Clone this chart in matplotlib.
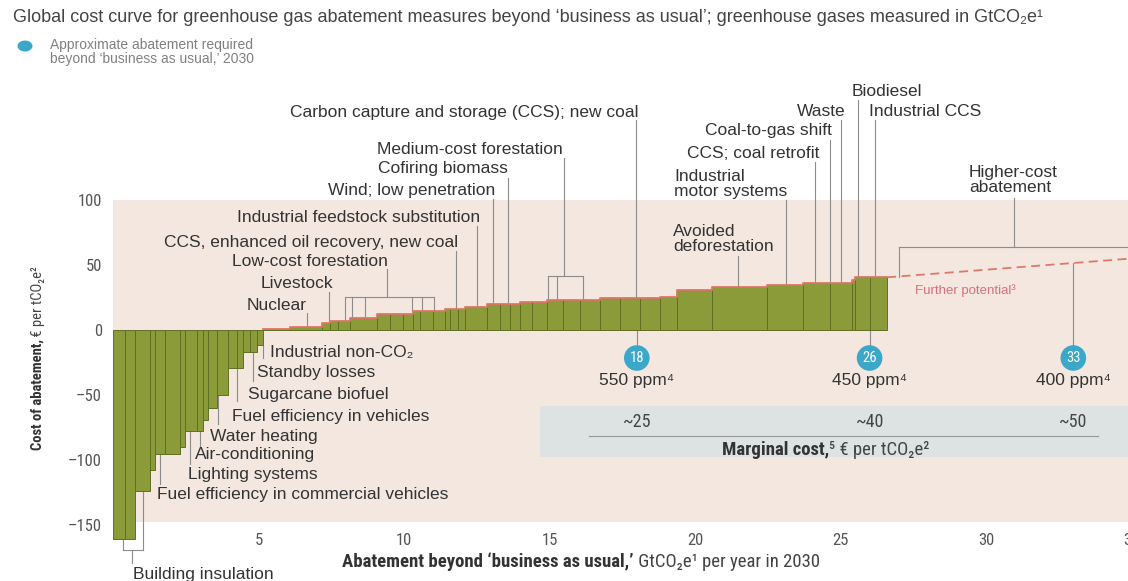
import matplotlib
matplotlib.use("Agg")
import matplotlib.pyplot as plt
from matplotlib import font_manager
from matplotlib.patches import Rectangle, Ellipse
import numpy as np

# ---------------- data ----------------
neg_widths = [0.41, 0.34, 0.52, 0.17, 0.34, 0.52, 0.17, 0.41, 0.21, 0.17,
              0.31, 0.38, 0.31, 0.21, 0.24, 0.24, 0.21]
neg_costs = [-161, -161, -124, -108, -95, -95, -90, -78, -78, -69,
             -60, -50, -29, -29, -17, -17, -11.5]
pos_widths = [0.93, 1.10, 0.27, 0.27, 0.41, 0.93, 0.45, 0.45, 0.34, 0.24,
              0.45, 0.41, 0.17, 0.27, 0.24, 0.76, 0.45, 0.34, 0.34, 0.41,
              0.52, 0.55, 0.58, 0.69, 0.69, 0.69, 0.69, 0.58, 1.20, 1.89,
              1.24, 0.93, 0.76, 0.10, 0.52, 0.58]
pos_costs = [0.5, 2, 5.6, 7, 7, 9, 12, 12, 12, 14.6,
             14.6, 14.6, 16, 16, 16, 17.7, 20, 20, 20, 21.3,
             21.3, 23, 23, 23, 24.6, 24.6, 24.6, 25.6, 31, 33,
             34.4, 36, 36, 38.5, 40.5, 40.5]
further_end_x = 35
further_end_cost = 55

required_abatement = [18, 26, 33]
ppm_labels = ["550 ppm\u2074", "450 ppm\u2074", "400 ppm\u2074"]
marginal_costs = ["~25", "~40", "~50"]

x_ticks = [5, 10, 15, 20, 25, 30, 35]
y_ticks = [100, 50, 0, -50, -100, -150]
y_tick_labels = ["100", "50", "0", "\u201350", "\u2013100", "\u2013150"]

# ---------------- fonts ----------------
names = {f.name for f in font_manager.fontManager.ttflist}
MAIN = ["Liberation Sans", "DejaVu Sans"]
if "Liberation Sans Narrow" in names:
    COND = ["Liberation Sans Narrow", "DejaVu Sans"]; CF = 1.0
elif "Roboto Condensed" in names:
    COND = ["Roboto Condensed", "DejaVu Sans"]; CF = 1.0
else:
    COND = MAIN; CF = 0.85

TXT = "#333333"
LEAD = "#8c8c8c"
BAR = "#8b9b3a"
BAR_EDGE = "#5f6f22"
PINK = "#f3e7e0"
BAND = "#dce3e2"
TEAL = "#3ba7c9"
RED = "#e0786a"
FS = 12.5

W, H = 1128, 581
fig = plt.figure(figsize=(W / 100, H / 100), dpi=100)

PX0, SX, PY0, SY = 113, 29.1, 330, 1.3
def X(px):
    return (px - PX0) / SX
def Y(py):
    return (PY0 - py) / SY

XMAX = 35.6
YMIN, YMAX = -152, 100
ax_w = XMAX * SX
ax_top = PY0 - YMAX * SY
ax_bot = PY0 - YMIN * SY
ax = fig.add_axes([PX0 / W, (H - ax_bot) / H, ax_w / W, (ax_bot - ax_top) / H])
ax.set_xlim(0, XMAX)
ax.set_ylim(YMIN, YMAX)
for s in ax.spines.values():
    s.set_visible(False)
ax.set_facecolor("none")

ax.set_xticks(x_ticks)
ax.set_xticklabels([str(t) for t in x_ticks], family=COND, fontsize=12 * CF, color="#555555")
ax.set_yticks(y_ticks)
ax.set_yticklabels(y_tick_labels, family=COND, fontsize=12 * CF, color="#555555")
ax.tick_params(axis="both", length=0)
ax.tick_params(axis="y", pad=8)
ax.tick_params(axis="x", pad=4)

# backgrounds
ax.add_patch(Rectangle((0, -148), XMAX, 248, facecolor=PINK, edgecolor="none", zorder=0))
ax.add_patch(Rectangle((X(540), Y(457)), XMAX - X(540), Y(406) - Y(457),
                       facecolor=BAND, edgecolor="none", zorder=0.5))

# bars
widths = neg_widths + pos_widths
costs = neg_costs + pos_costs
lefts = np.concatenate([[0], np.cumsum(widths)[:-1]])
ax.bar(lefts, costs, width=widths, align="edge", color=BAR, edgecolor=BAR_EDGE,
       linewidth=0.7, zorder=3, clip_on=False)
end_x = float(np.sum(widths))
nneg = len(neg_widths)
px_ = list(lefts[nneg:]) + [end_x]
py_ = list(pos_costs) + [pos_costs[-1]]
ax.plot(px_, py_, drawstyle="steps-post", color=RED, lw=1.3, zorder=4)

# further potential dashed
ax.plot([end_x, further_end_x], [pos_costs[-1], further_end_cost], color=RED,
        lw=1.3, ls=(0, (5, 3)), zorder=4, clip_on=False)

def cost_at(xd):
    i = int(np.searchsorted(np.cumsum(widths), xd))
    i = min(i, len(costs) - 1)
    return costs[i]

def vline(xd, y1, y2, color=LEAD):
    ax.plot([xd, xd], [y1, y2], color=color, lw=0.8, zorder=2, clip_on=False)

def hline(x1, x2, y, color=LEAD):
    ax.plot([x1, x2], [y, y], color=color, lw=0.8, zorder=2, clip_on=False)

def label(s, px, py, ha="left", fs=FS, color=TXT):
    ax.text(X(px), Y(py), s, ha=ha, va="center", fontsize=fs, color=color,
            family=MAIN, zorder=6)

# ---- labels above curve (positive) ----
top_labels = [
    ("Carbon capture and storage (CCS); new coal", 639, 112, "right", 636, 120),
    ("Medium-cost forestation", 563, 150, "right", None, None),
    ("Cofiring biomass", 508, 169, "right", 508, 178),
    ("Wind; low penetration", 495, 190, "right", 493, 199),
    ("Industrial feedstock substitution", 480, 217, "right", 477, 226),
    ("CCS, enhanced oil recovery, new coal", 458, 242, "right", 456, 251),
    ("Low-cost forestation", 388, 261, "right", None, None),
    ("Livestock", 333, 283, "right", 329, 292),
    ("Nuclear", 247, 305, "left", 307, 313),
    ("Biodiesel", 852, 91, "left", 858, 100),
    ("Waste", 846, 111, "right", 841, 120),
    ("Industrial CCS", 869, 111, "left", 875, 120),
    ("Coal-to-gas shift", 832, 131, "right", 830, 140),
    ("CCS; coal retrofit", 819, 153, "right", 815, 162),
]
for s, px, py, ha, lx, ly in top_labels:
    label(s, px, py, ha=ha)
    if lx is not None:
        vline(X(lx), Y(ly), cost_at(X(lx)))

ax.text(X(674), Y(184), "Industrial\nmotor systems", ha="left", va="center",
        fontsize=FS, color=TXT, family=MAIN, linespacing=1.0)
vline(X(786), Y(200), cost_at(X(786)))
ax.text(X(673), Y(239), "Avoided\ndeforestation", ha="left", va="center",
        fontsize=FS, color=TXT, family=MAIN, linespacing=1.0)
vline(X(738), Y(256), cost_at(X(738)))
ax.text(X(969), Y(180), "Higher-cost\nabatement", ha="left", va="center",
        fontsize=FS, color=TXT, family=MAIN, linespacing=1.0)
vline(X(1014), Y(198), Y(247))
hline(X(899), XMAX, Y(247))
vline(X(899), Y(247), Y(277))

# medium-cost forestation bracket
vline(X(564), Y(158), Y(276))
hline(X(548), X(583), Y(276))
for lx in [548, 557, 583]:
    vline(X(lx), Y(276), cost_at(X(lx)))
# low-cost forestation bracket
vline(X(387), Y(269), Y(297))
hline(X(345), X(434), Y(297))
for lx in [345, 352, 365, 412, 422, 434]:
    vline(X(lx), Y(297), cost_at(X(lx)))

# ---- labels below curve (negative) ----
low_labels = [
    ("Industrial non-CO\u2082", 270, 353, 263, 358),
    ("Standby losses", 257, 373, 253, 381),
    ("Sugarcane biofuel", 248, 394, 237, 401),
    ("Fuel efficiency in vehicles", 232, 416, 218, 424),
    ("Water heating", 210, 436, 200, 446),
    ("Air-conditioning", 195, 455, 190, 464),
    ("Lighting systems", 188, 475, 160, 484),
]
for s, px, py, lx, ly in low_labels:
    label(s, px, py)
    vline(X(lx), cost_at(X(lx)), Y(ly))
label("Fuel efficiency in commercial vehicles", 157, 495)
vline(X(143), cost_at(X(143)), Y(550))
vline(X(123), cost_at(X(123)), Y(550))
hline(X(123), X(143), Y(550))
vline(X(132), Y(550), Y(563))
label("Building insulation", 133, 574)

label("Further potential\u00b3", 915, 291, fs=9.5, color="#d8707a")

# ---- required abatement circles ----
circ_y = Y(358)
for v in required_abatement:
    if v <= end_x:
        top = 0
    else:
        top = float(np.interp(v, [end_x, further_end_x], [pos_costs[-1], further_end_cost]))
    vline(v, top, circ_y)
ax.scatter(required_abatement, [circ_y] * 3, s=340, color=TEAL, zorder=7, clip_on=False,
           edgecolors="none")
for v, p, m in zip(required_abatement, ppm_labels, marginal_costs):
    ax.text(v, circ_y, str(v), ha="center", va="center", color="white",
            fontsize=10.5, family=COND, zorder=8)
    ax.text(v, Y(381), p, ha="center", va="center", color=TXT, fontsize=FS,
            family=MAIN, zorder=8)
    ax.text(v, Y(422), m, ha="center", va="center", color="#444444",
            fontsize=13 * CF, family=COND, zorder=8)
hline(X(589), X(1098), Y(436), color="#999999")
t1 = ax.text(X(722), Y(450), "Marginal cost,", ha="left", va="center",
             fontsize=13.5 * CF, family=COND, weight="bold", color="#333333")
ax.annotate("\u2075 \u20ac per tCO\u2082e\u00b2", xy=(1, 0), xycoords=t1,
            ha="left", va="bottom", fontsize=13.5 * CF, family=COND, color="#444444")

# ---- axis titles ----
t2 = fig.text(342 / W, 1 - 562 / H, "Abatement beyond \u2018business as usual,\u2019",
              ha="left", va="center", fontsize=13.5 * CF, family=COND, weight="bold",
              color="#333333")
ax.annotate(" GtCO\u2082e\u00b9 per year in 2030", xy=(1, 0), xycoords=t2,
            ha="left", va="bottom", fontsize=13.5 * CF, family=COND, color="#444444",
            annotation_clip=False)
t3 = fig.text(38 / W, 1 - 395 / H, "Cost of abatement,", rotation=90,
              ha="center", va="center", fontsize=10.5 * CF, family=COND, weight="bold",
              color="#333333")
ax.annotate(" \u20ac per tCO\u2082e\u00b2", xy=(0.5, 1), xycoords=t3, rotation=90,
            ha="center", va="bottom", fontsize=10.5 * CF, family=COND, color="#444444",
            annotation_clip=False)

# ---- title and legend ----
fig.text(13 / W, 1 - 17 / H,
         "Global cost curve for greenhouse gas abatement measures beyond \u2018business as usual\u2019; "
         "greenhouse gases measured in GtCO\u2082e\u00b9",
         ha="left", va="center", fontsize=13, family=MAIN, color="#444444")
fig.patches.append(Ellipse((25 / W, 1 - 46 / H), 15 / W, 11 / H, transform=fig.transFigure,
                           facecolor=TEAL, edgecolor="none"))
fig.text(50 / W, 1 - 52 / H,
         "Approximate abatement required\nbeyond \u2018business as usual,\u2019 2030",
         ha="left", va="center", fontsize=10, family=MAIN, color="#808080", linespacing=1.05)

fig.savefig("out.png", dpi=100)
